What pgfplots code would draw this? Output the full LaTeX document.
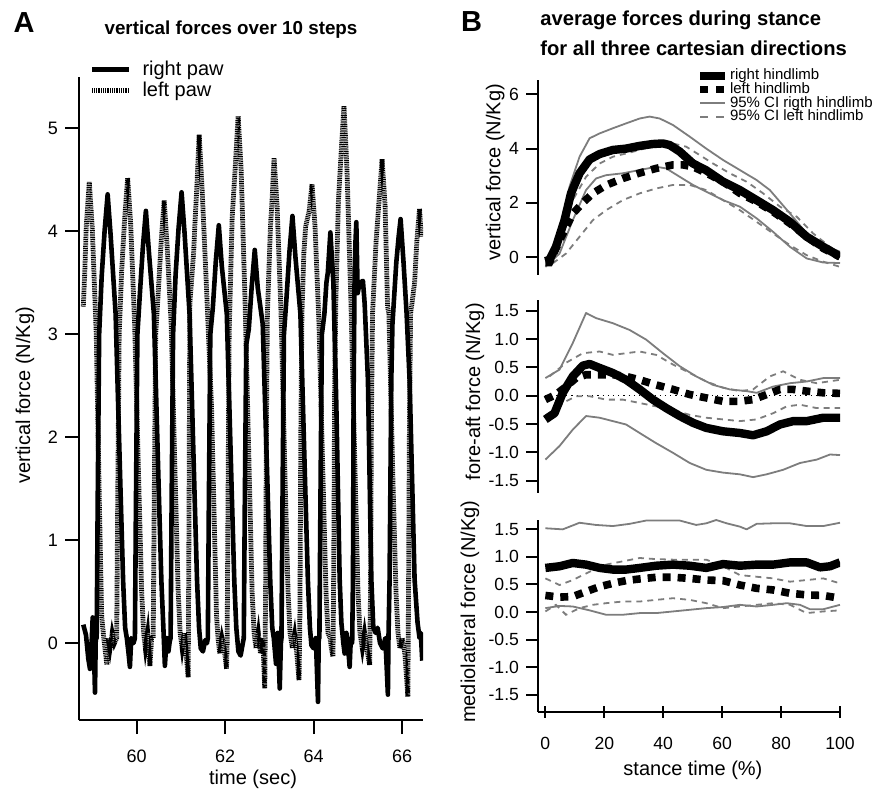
\documentclass[border=0pt]{standalone}
\usepackage{pgfplots}
\pgfplotsset{compat=1.18}
\usepackage{fontspec}
\setmainfont{Liberation Sans}
\definecolor{cigray}{RGB}{125,125,125}

\begin{document}
\begin{tikzpicture}
\pgfplotsset{
  Bstyle/.style={scale only axis, width=151pt, xmin=-2.5, xmax=100,
    axis y line=left,
    tick align=outside, major tick length=6pt,
    every tick/.style={black, line width=1pt},
    tick label style={font=\fontsize{8.8}{10}\selectfont},
    label style={font=\fontsize{9.8}{11}\selectfont},
    /pgf/number format/assume math mode=true},
  rmean/.style={black, line width=4.2pt, line join=round},
  lmean/.style={black, line width=3.8pt, dash pattern=on 4pt off 3.5pt},
  rci/.style={cigray, line width=0.9pt, line join=round},
  lci/.style={cigray, line width=0.9pt, dash pattern=on 3pt off 2.5pt},
}

% ---------------- Panel A ----------------
\begin{axis}[
  at={(39.5pt,35.5pt)}, anchor=south west, scale only axis,
  width=172pt, height=321.5pt,
  xmin=58.70, xmax=66.47, ymin=-0.746, ymax=5.5,
  axis x line=bottom, axis y line=left, axis line style={-, line width=1pt},
  tick align=outside, major tick length=7pt,
  every tick/.style={black, line width=1pt},
  xtick={60,62,64,66}, ytick={0,1,2,3,4,5},
  xticklabel shift=4.5pt,
  tick label style={font=\fontsize{9}{10}\selectfont},
  /pgf/number format/assume math mode=true,
  xlabel={time (sec)}, ylabel={vertical force (N/Kg)},
  label style={font=\fontsize{10}{11}\selectfont},
  every axis y label/.style={at={(axis description cs:-0.157,0.505)}, rotate=90, anchor=center},
  every axis x label/.style={at={(axis description cs:0.506,-0.092)}, anchor=center},
  legend style={at={(rel axis cs:0.03,1.027)}, anchor=north west, draw=none, fill=none,
    font=\fontsize{10}{11}\selectfont, inner sep=0pt, row sep=0.6pt,
    nodes={inner sep=0.5pt}, /tikz/every odd column/.append style={column sep=5pt}},
  legend cell align=left,
  legend image code/.code={\draw[#1] (0pt,0pt) -- (18.5pt,0pt);},
]
\addplot[black, line width=2.3pt, line join=round] coordinates {
(58.797,0.18) (58.858,0.08) (58.910,-0.15) (58.948,-0.25) (58.985,0.00) (59.009,0.25) (59.040,-0.10) (59.061,-0.48) (59.080,0.10)
(59.099,0.05) (59.121,1.30) (59.155,3.00) (59.212,3.56) (59.279,4.01) (59.347,4.36) (59.415,3.96) (59.527,3.20) (59.640,1.45) (59.697,0.60) (59.742,0.15)
(59.78,0.05) (59.82,-0.10) (59.85,-0.23) (59.88,0.05) (59.93,0.00)
(59.963,0.05) (59.985,1.30) (60.019,3.00) (60.076,3.40) (60.143,3.85) (60.211,4.20) (60.279,3.80) (60.391,3.20) (60.504,1.45) (60.561,0.60) (60.606,0.15)
(60.640,-0.22) (60.680,0.05) (60.720,-0.08) (60.750,0.02)
(60.769,0.05) (60.791,1.30) (60.825,3.00) (60.882,3.58) (60.949,4.03) (61.017,4.38) (61.085,3.98) (61.197,3.20) (61.310,1.45) (61.367,0.60) (61.412,0.15)
(61.450,-0.05) (61.500,-0.08) (61.550,0.03) (61.590,0.00)
(61.610,0.05) (61.632,1.30) (61.666,3.00) (61.723,3.26) (61.790,3.71) (61.858,4.06) (61.926,3.66) (62.038,3.20) (62.151,1.45) (62.208,0.60) (62.253,0.15)
(62.300,-0.08) (62.350,-0.12) (62.400,0.00)
(62.422,0.05) (62.444,1.30) (62.478,2.90) (62.535,3.05) (62.602,3.47) (62.670,3.82) (62.738,3.45) (62.850,3.10) (62.963,1.45) (63.020,0.60) (63.065,0.15)
(63.100,0.05) (63.150,-0.20) (63.190,0.10) (63.234,-0.44) (63.260,0.00)
(63.273,0.05) (63.295,1.30) (63.329,3.00) (63.386,3.35) (63.453,3.80) (63.521,4.15) (63.589,3.75) (63.701,3.20) (63.814,1.45) (63.871,0.60) (63.916,0.15)
(63.950,-0.02) (64.000,-0.05) (64.050,0.05) (64.098,-0.57) (64.115,0.05)
(64.130,0.05) (64.152,1.30) (64.186,3.00) (64.243,3.20) (64.288,3.50) (64.320,3.60) (64.378,3.99) (64.446,3.50) (64.513,2.30) (64.588,0.62) (64.626,0.20) (64.671,0.00)
(64.700,-0.10) (64.740,0.10) (64.780,-0.05) (64.813,-0.23) (64.840,0.05)
(64.870,0.00) (64.888,0.62) (64.904,2.50) (64.926,3.60) (64.945,3.90) (64.964,4.09) (64.994,3.40) (65.039,3.50) (65.113,3.52) (65.152,3.30) (65.226,2.56) (65.303,0.62) (65.348,0.15)
(65.400,0.10) (65.445,0.15) (65.500,0.00) (65.558,-0.05) (65.620,0.05) (65.677,-0.50) (65.690,0.05)
(65.715,0.62) (65.754,2.56) (65.780,3.10) (65.867,3.70) (65.920,3.95) (65.964,4.12) (66.030,3.70) (66.100,3.20) (66.167,2.56) (66.280,0.62) (66.347,0.20) (66.392,0.05) (66.420,0.10) (66.453,-0.17)
};
\addlegendentry{right paw}
\addplot[black, line width=2.4pt, dash pattern=on 0.5pt off 0.4pt] coordinates {
(58.797,3.27) (58.830,3.60) (58.864,4.05) (58.932,4.48) (59.000,4.03) (59.090,3.00) (59.158,1.40) (59.212,0.26) (59.260,0.05)
(59.300,-0.10) (59.329,-0.21) (59.360,0.05) (59.400,-0.05) (59.450,0.10) (59.500,0.00)
(59.551,0.05) (59.573,1.30) (59.607,3.00) (59.664,3.62) (59.731,4.12) (59.799,4.52) (59.867,4.07) (59.957,3.10) (60.047,1.60) (60.115,0.50) (60.160,0.10)
(60.200,-0.05) (60.250,0.10) (60.302,-0.22) (60.340,0.05)
(60.376,0.05) (60.398,1.30) (60.432,3.00) (60.489,3.40) (60.556,3.90) (60.624,4.30) (60.692,3.85) (60.782,3.10) (60.872,1.60) (60.940,0.50) (60.985,0.10)
(61.030,-0.05) (61.080,0.10) (61.120,-0.10) (61.166,-0.33)
(61.185,1.20) (61.204,3.30) (61.290,3.80) (61.318,4.07) (61.370,4.50) (61.414,4.94) (61.482,4.40) (61.580,3.45) (61.693,2.30) (61.806,0.27) (61.840,0.05)
(61.880,-0.10) (61.930,0.05) (61.980,-0.05) (62.032,-0.25)
(62.046,0.00) (62.068,1.50) (62.091,3.00) (62.159,4.13) (62.226,4.60) (62.294,5.12) (62.362,4.60) (62.452,3.30) (62.542,1.70) (62.610,0.50) (62.655,0.10)
(62.700,-0.05) (62.750,0.10) (62.800,-0.10) (62.850,0.05) (62.896,-0.44)
(62.915,0.50) (62.935,2.20) (62.955,3.20) (63.025,4.05) (63.060,4.30) (63.106,4.71) (63.174,4.25) (63.264,3.20) (63.354,1.60) (63.422,0.50) (63.467,0.10)
(63.520,-0.05) (63.570,0.08) (63.620,-0.10) (63.670,-0.36)
(63.690,0.30) (63.710,2.00) (63.735,3.20) (63.780,3.80) (63.820,4.05) (63.900,4.20) (63.963,4.46) (64.031,4.05) (64.121,3.10) (64.211,1.60) (64.279,0.50) (64.324,0.10)
(64.370,0.05) (64.400,-0.05) (64.437,-0.13)
(64.455,0.80) (64.475,2.50) (64.500,3.30) (64.560,4.30) (64.600,4.60) (64.640,4.90) (64.685,5.22) (64.753,4.60) (64.843,3.30) (64.933,1.70) (65.001,0.50) (65.046,0.10)
(65.100,-0.05) (65.150,0.10) (65.200,-0.05) (65.264,-0.21)
(65.285,0.50) (65.305,2.20) (65.330,3.20) (65.410,3.90) (65.478,4.30) (65.546,4.70) (65.614,4.25) (65.670,3.27) (65.700,3.20) (65.790,1.60) (65.860,0.50) (65.905,0.10)
(65.950,-0.05) (66.000,0.05) (66.060,-0.10) (66.128,-0.52)
(66.145,0.60) (66.165,2.20) (66.190,3.20) (66.280,3.50) (66.330,3.90) (66.392,4.22) (66.430,3.95)
};
\addlegendentry{left paw}
\end{axis}

% ---------------- Panel B top ----------------
\begin{axis}[Bstyle,
  at={(269pt,258pt)}, anchor=south west, height=97.5pt,
  ymin=-0.66, ymax=6.53, axis x line=none, axis line style={-, line width=1pt}, ytick={0,2,4,6},
  ylabel={vertical force (N/Kg)},
  every axis y label/.style={at={(axis description cs:-0.142,0.526)}, rotate=90, anchor=center},
  legend style={at={(rel axis cs:0.522,1.062)}, anchor=north west, draw=none, fill=none,
    font=\fontsize{7.5}{8}\selectfont, inner sep=0pt, row sep=-0.7pt,
    nodes={inner sep=0.3pt}, /tikz/every odd column/.append style={column sep=0pt}},
  legend cell align=left,
  legend image code/.code={\draw[#1] (0pt,0pt) -- (12.5pt,0pt);},
]
\addlegendimage{rmean}\addlegendentry{right hindlimb}
\addlegendimage{black, line width=3.8pt, dash pattern=on 4pt off 4pt}\addlegendentry{left hindlimb}
\addlegendimage{rci}\addlegendentry{95\% CI rigth hindlimb}
\addlegendimage{cigray, line width=0.9pt, dash pattern=on 4pt off 4pt}\addlegendentry{95\% CI left hindlimb}
\addplot[rci, forget plot] coordinates {(0,-0.10) (1.4,0.10) (4.8,0.87) (8.2,2.60) (11.6,3.70) (15.0,4.38) (18.4,4.56) (22.9,4.75) (27.4,4.93) (32.0,5.11) (35.4,5.18) (38.8,5.11) (43.3,4.87) (49.0,4.44) (54.6,4.00) (60.3,3.58) (66.0,3.21) (71.7,2.84) (76.2,2.47) (83.0,1.61) (88.7,0.87) (94.3,0.44) (100,0.20)};
\addplot[rci, forget plot] coordinates {(0,-0.36) (4.8,0.13) (9.3,1.36) (13.8,2.47) (17.2,2.90) (20.6,3.02) (26.3,3.09) (32.0,3.21) (37.6,3.33) (41.0,3.27) (45.6,2.96) (50.1,2.66) (54.6,2.41) (60.3,2.10) (66.0,1.86) (71.7,1.43) (77.3,0.93) (83.0,0.38) (88.7,-0.05) (94.3,-0.20) (100,-0.22)};
\addplot[lci, forget plot] coordinates {(1.4,-0.10) (4.8,0.87) (9.3,2.10) (13.8,2.96) (18.4,3.45) (22.9,3.70) (27.4,3.82) (32.0,3.95) (37.6,4.13) (43.3,4.19) (47.8,4.07) (52.4,3.76) (56.9,3.45) (62.6,3.09) (68.3,2.78) (73.9,2.35) (79.6,1.86) (85.3,1.49) (90.9,0.87) (96.6,0.38) (100,0.14)};
\addplot[lci, forget plot] coordinates {(2.5,-0.23) (7.0,0.13) (11.6,0.75) (16.1,1.36) (20.6,1.73) (26.3,2.10) (32.0,2.35) (37.6,2.53) (43.3,2.66) (49.0,2.66) (54.6,2.47) (60.3,2.10) (66.0,1.73) (71.7,1.30) (77.3,0.87) (83.0,0.44) (88.7,0.07) (94.3,-0.17) (100,-0.36)};
\addplot[rmean, forget plot] coordinates {(0,-0.15) (1.4,-0.10) (3.6,0.38) (6.5,1.36) (8.7,2.35) (11.6,3.09) (15.0,3.60) (18.4,3.80) (22.9,3.95) (27.4,4.00) (32.0,4.10) (36.5,4.17) (39.9,4.19) (42.2,4.13) (45.6,3.89) (50.1,3.45) (54.6,3.20) (60.3,2.78) (66.0,2.47) (71.7,2.10) (77.3,1.73) (83.0,1.30) (88.7,0.75) (94.3,0.38) (100,0.02)};
\addplot[lmean, forget plot] coordinates {(0,-0.20) (1.4,-0.20) (4.8,0.60) (7.0,1.10) (9.3,1.60) (12.7,2.00) (16.1,2.35) (20.6,2.65) (26.3,2.90) (32.0,3.10) (37.6,3.27) (43.3,3.40) (46.7,3.40) (50.1,3.33) (54.6,3.10) (60.3,2.78) (66.0,2.35) (71.7,2.04) (77.3,1.67) (83.0,1.24) (88.7,0.75) (94.3,0.32) (100,0.01)};
\end{axis}

% ---------------- Panel B middle ----------------
\begin{axis}[Bstyle,
  at={(269pt,149pt)}, anchor=south west, height=96.5pt,
  ymin=-1.72, ymax=1.69, axis x line=none, axis line style={-, line width=1pt},
  ytick={-1.5,-1,-0.5,0,0.5,1,1.5},
  yticklabel style={/pgf/number format/.cd, fixed, fixed zerofill, precision=1},
  ylabel={fore-aft force (N/Kg)},
  every axis y label/.style={at={(axis description cs:-0.209,0.525)}, rotate=90, anchor=center},
]
\addplot[black, line width=0.6pt, dotted] coordinates {(0,0) (100,0)};
\addplot[rci] coordinates {(0,0.31) (4.8,0.46) (9.3,0.93) (13.8,1.46) (17.2,1.37) (22.9,1.28) (28.6,1.16) (34.2,0.99) (39.9,0.75) (45.6,0.52) (51.2,0.34) (56.9,0.19) (62.6,0.11) (68.3,0.08) (71.7,0.05) (77.3,0.16) (83.0,0.22) (88.7,0.25) (94.3,0.31) (100,0.31)};
\addplot[rci] coordinates {(0,-1.13) (4.8,-0.89) (9.3,-0.60) (13.8,-0.36) (18.4,-0.39) (22.9,-0.45) (27.4,-0.51) (32.0,-0.66) (37.6,-0.84) (43.3,-1.01) (49.0,-1.19) (54.6,-1.31) (60.3,-1.36) (66.0,-1.39) (70.5,-1.44) (75.1,-1.39) (80.7,-1.31) (86.4,-1.19) (92.1,-1.13) (96.6,-1.04) (100,-1.05)};
\addplot[lci] coordinates {(1.4,0.34) (7.0,0.58) (12.7,0.75) (18.4,0.78) (22.9,0.72) (27.4,0.75) (32.0,0.78) (37.6,0.72) (43.3,0.55) (49.0,0.40) (54.6,0.25) (60.3,0.14) (66.0,0.08) (70.5,0.11) (76.2,0.34) (80.7,0.43) (86.4,0.28) (92.1,0.22) (100,0.28)};
\addplot[lci] coordinates {(1.4,-0.34) (5.9,-0.13) (10.4,-0.01) (15.0,-0.01) (20.6,-0.07) (26.3,-0.07) (32.0,-0.13) (37.6,-0.19) (43.3,-0.25) (49.0,-0.34) (54.6,-0.39) (60.3,-0.42) (66.0,-0.45) (71.7,-0.42) (77.3,-0.31) (81.9,-0.19) (86.4,-0.16) (92.1,-0.22) (100,-0.22)};
\addplot[rmean] coordinates {(0,-0.42) (3.1,-0.31) (5.9,0.05) (9.3,0.34) (12.7,0.53) (15.0,0.56) (18.4,0.49) (22.9,0.40) (27.4,0.28) (32.0,0.11) (36.5,-0.07) (41.0,-0.22) (45.6,-0.36) (50.1,-0.48) (54.6,-0.57) (60.3,-0.63) (66.0,-0.66) (70.5,-0.70) (75.1,-0.63) (79.6,-0.51) (84.1,-0.45) (88.7,-0.45) (94.3,-0.39) (100,-0.39)};
\addplot[lmean] coordinates {(0,-0.07) (3.6,0.02) (7.0,0.16) (10.4,0.31) (13.8,0.37) (18.4,0.37) (22.9,0.37) (27.4,0.34) (32.0,0.28) (37.6,0.19) (43.3,0.11) (49.0,0.02) (54.6,-0.04) (60.3,-0.10) (66.0,-0.10) (70.5,-0.07) (75.1,0.02) (79.6,0.11) (84.1,0.11) (88.7,0.08) (94.3,0.05) (100,0.04)};
\end{axis}

% ---------------- Panel B bottom ----------------
\begin{axis}[Bstyle,
  at={(269pt,39.65pt)}, anchor=south west, height=95.85pt,
  ymin=-1.81, ymax=1.67, axis x line=bottom, axis line style={-, line width=1pt},
  xtick={0,20,40,60,80,100}, xticklabel shift=6pt,
  ytick={-1.5,-1,-0.5,0,0.5,1,1.5},
  yticklabel style={/pgf/number format/.cd, fixed, fixed zerofill, precision=1},
  xlabel={stance time (\%)}, ylabel={mediolateral force (N/Kg)},
  every axis y label/.style={at={(axis description cs:-0.225,0.522)}, rotate=90, anchor=center},
  every axis x label/.style={at={(axis description cs:0.513,-0.304)}, anchor=center},
]
\addplot[rci] coordinates {(0,1.52) (5.9,1.50) (11.6,1.62) (17.2,1.58) (22.9,1.56) (28.6,1.60) (34.2,1.66) (39.9,1.66) (45.6,1.66) (51.2,1.58) (54.6,1.61) (58.0,1.67) (61.5,1.61) (66.0,1.55) (68.3,1.50) (71.7,1.60) (77.3,1.61) (83.0,1.61) (88.7,1.56) (94.3,1.56) (100,1.62)};
\addplot[rci] coordinates {(0,0.07) (4.8,0.11) (9.3,0.10) (15.0,0.03) (20.6,-0.05) (26.3,-0.05) (32.0,-0.02) (37.6,-0.02) (43.3,0.01) (49.0,0.04) (54.6,0.07) (60.3,0.09) (66.0,0.13) (71.7,0.10) (77.3,0.13) (81.9,0.16) (86.4,0.13) (89.8,0.05) (94.3,0.05) (100,0.13)};
\addplot[lci] coordinates {(0,0.61) (4.8,0.49) (9.3,0.58) (15.0,0.73) (20.6,0.86) (26.3,0.92) (32.0,0.98) (37.6,0.96) (43.3,0.95) (49.0,0.95) (54.6,0.95) (60.3,0.83) (66.0,0.67) (71.7,0.64) (77.3,0.61) (83.0,0.55) (88.7,0.58) (94.3,0.61) (100,0.52)};
\addplot[lci] coordinates {(0,0.01) (3.6,0.13) (7.0,-0.05) (11.6,0.07) (16.1,0.13) (20.6,0.16) (26.3,0.19) (32.0,0.19) (37.6,0.22) (43.3,0.25) (49.0,0.22) (54.6,0.16) (60.3,0.07) (66.0,0.10) (71.7,0.13) (77.3,0.16) (83.0,0.13) (88.7,-0.02) (94.3,0.01) (100,0.03)};
\addplot[rmean] coordinates {(0,0.80) (4.8,0.83) (9.3,0.89) (13.8,0.86) (18.4,0.80) (22.9,0.77) (27.4,0.77) (32.0,0.80) (37.6,0.84) (43.3,0.86) (49.0,0.84) (54.6,0.80) (60.3,0.87) (66.0,0.84) (71.7,0.86) (77.3,0.86) (83.0,0.90) (88.7,0.90) (93.2,0.81) (96.6,0.83) (100,0.90)};
\addplot[lmean] coordinates {(0,0.30) (4.8,0.27) (9.3,0.28) (13.8,0.37) (18.4,0.46) (22.9,0.52) (27.4,0.57) (32.0,0.60) (37.6,0.63) (43.3,0.63) (49.0,0.61) (54.6,0.58) (60.3,0.57) (66.0,0.49) (71.7,0.43) (77.3,0.40) (83.0,0.34) (88.7,0.31) (94.3,0.30) (100,0.25)};
\end{axis}

% ---------------- Titles and panel letters ----------------
\node[font=\fontsize{14.5}{16}\selectfont\bfseries] at (12pt,384.25pt) {A};
\node[font=\fontsize{14.5}{16}\selectfont\bfseries] at (235.85pt,384.5pt) {B};
\node[font=\fontsize{9.4}{11}\selectfont\bfseries] at (115.5pt,380.5pt) {vertical forces over 10 steps};
\node[font=\fontsize{10.1}{12}\selectfont\bfseries, anchor=west, inner sep=0pt] at (270pt,385.5pt) {average forces during stance};
\node[font=\fontsize{10.1}{12}\selectfont\bfseries, anchor=west, inner sep=0pt] at (270pt,371.5pt) {for all three cartesian directions};

\pgfresetboundingbox
\path (0pt,0pt) rectangle (438pt,395.5pt);
\end{tikzpicture}
\end{document}
